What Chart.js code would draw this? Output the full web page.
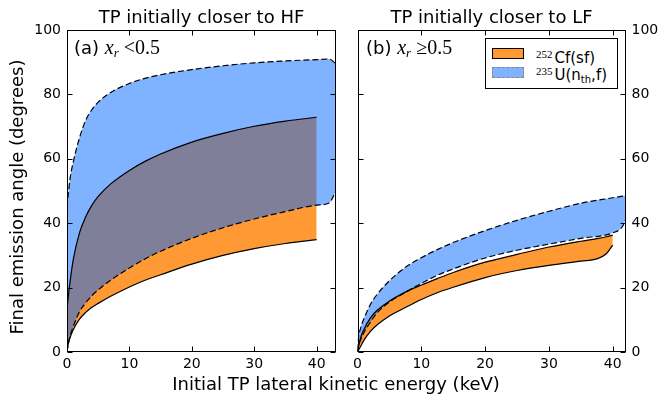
<!DOCTYPE html>
<html lang="en">
<head>
<meta charset="UTF-8">
<title>Final emission angle vs initial TP lateral kinetic energy</title>
<script src="https://cdn.jsdelivr.net/npm/chart.js"></script>
<style>
  body { margin: 0; background: #fff; font-family: "DejaVu Sans", sans-serif; }
  #wrap { position: relative; width: 664px; height: 400px; overflow: hidden; }
  canvas { position: absolute; top: 0; }
  #chartA { left: 0; }
  #chartB { left: 340px; }
  .txt { position: absolute; white-space: nowrap; color: #000; font-size: 18px; line-height: 18px; }
  .title { top: 8px; width: 269px; text-align: center; }
  .math { font-family: "Liberation Serif", serif; font-size: 20px; }
  .math i sub { font-size: 13px; font-style: italic; vertical-align: -3px; }
  #ylabel { left: -133px; top: 187px; width: 300px; height: 20px; line-height: 20px; text-align: center; transform: rotate(-90deg); }
  #xlabel { left: 136px; top: 375px; width: 400px; text-align: center; }
  #legend { position: absolute; left: 485px; top: 38px; width: 133px; height: 51px; box-sizing: border-box; border: 1px solid #000; background: #fff; }
  .patch { position: absolute; left: 492px; width: 32px; height: 11px; box-sizing: border-box; }
  .leg { position: absolute; left: 536px; font-size: 15px; line-height: 15px; white-space: nowrap; }
  .leg .iso { font-family: "Liberation Serif", serif; font-size: 11px; vertical-align: 5px; margin-right: 2px; }
  .leg sub { font-size: 10px; vertical-align: -3px; }
</style>
</head>
<body>
<div id="wrap">
  <canvas id="chartA" width="340" height="400"></canvas>
  <canvas id="chartB" width="324" height="400"></canvas>

  <div class="txt title" style="left:67px;">TP initially closer to HF</div>
  <div class="txt title" style="left:357px;">TP initially closer to LF</div>
  <div class="txt" style="left:74px; top:38px;">(a) <span class="math"><i>x<sub>r</sub></i> &lt;0.5</span></div>
  <div class="txt" style="left:366px; top:38px;">(b) <span class="math"><i>x<sub>r</sub></i> ≥0.5</span></div>
  <div class="txt" id="ylabel">Final emission angle (degrees)</div>
  <div class="txt" id="xlabel">Initial TP lateral kinetic energy (keV)</div>

  <div id="legend"></div>
  <div class="patch" style="top:48px; background:#ff9933; border:1px solid #000;"></div>
  <div class="patch" style="top:67px; background:rgba(0,102,255,0.5); border:1px dashed #888;"></div>
  <div class="leg" style="top:47px;"><span class="iso">252</span>Cf(sf)</div>
  <div class="leg" style="top:64px;"><span class="iso">235</span>U(n<sub>th</sub>,f)</div>
</div>

<script>
  // axis ticks
  const xTicks = [0, 10, 20, 30, 40];
  const yTicks = [0, 20, 40, 60, 80, 100];

  // (a) x_r < 0.5 -- 235U(nth,f) band (dashed)
  const uEnergyA = [0, 0.2, 0.5, 1, 2, 3, 4, 5, 7, 10, 12.5, 15, 20, 25, 30, 35, 40, 42, 43.1];
  const uLowerA  = [0, 2.5, 5, 7.9, 12.5, 15.3, 17.5, 19.3, 22.3, 26.1, 28.9, 31.3, 35.3, 38.6, 41.3, 43.6, 45.6, 46.3, 50];
  const uUpperA  = [45, 49, 54, 59, 66.5, 72, 75.3, 77.6, 80.6, 83.4, 85, 86.1, 87.7, 88.9, 89.8, 90.4, 90.8, 91, 89.5];
  // (a) 252Cf(sf) band (solid)
  const cfEnergyA = [0, 0.2, 0.5, 1, 2, 3, 4, 5, 7, 10, 12.5, 15, 20, 25, 30, 35, 40];
  const cfLowerA  = [0, 2.5, 4.5, 6.9, 10.2, 12.3, 13.9, 15.1, 17.3, 20.2, 22.3, 24, 27.3, 30, 32.1, 33.7, 34.9];
  const cfUpperA  = [13, 17, 22, 28.7, 37, 42, 45.6, 48.3, 52.2, 56.4, 59.2, 61.5, 65.2, 67.9, 70.1, 71.7, 72.9];

  // (b) x_r >= 0.5 -- 235U(nth,f) band
  const uEnergyB = [0, 0.1, 0.5, 1, 2, 3, 5, 7.5, 10, 12.5, 15, 20, 25, 30, 35, 40, 41.5, 42];
  const uLowerB  = [0, 1.5, 3.8, 6, 9.2, 12, 15.5, 18.5, 21.3, 23.8, 25.8, 29.2, 31.6, 33.5, 35.3, 37, 38.9, 41];
  const uUpperB  = [0.5, 3.5, 7.5, 10.3, 14.7, 17.7, 22.1, 26.3, 29.3, 31.8, 34, 37.7, 40.9, 43.7, 46.2, 47.9, 48.4, 48.6];
  // (b) 252Cf(sf) band
  const cfEnergyB = [0, 0.5, 1, 2, 3, 5, 7.5, 10, 12.5, 15, 20, 25, 30, 35, 37.5, 39, 40];
  const cfLowerB  = [0, 1.8, 3.6, 6.3, 8.3, 11.2, 13.8, 16.3, 18.4, 20.1, 23.1, 25.3, 26.9, 28.2, 28.9, 30.5, 33.2];
  const cfUpperB  = [0, 4.5, 7, 10.5, 12.8, 15.8, 18.6, 20.8, 22.8, 24.7, 27.9, 30.3, 32.6, 34.4, 35.2, 35.8, 36.3];

  Chart.defaults.font.family = '"DejaVu Sans", sans-serif';
  Chart.defaults.font.size = 14;
  Chart.defaults.color = '#000';

  function pts(xs, ys) {
    return xs.map((x, i) => ({ x: x, y: ys[i] }));
  }

  // matplotlib style box with inward ticks on all four sides
  const framePlugin = {
    id: 'frame',
    afterDatasetsDraw(chart) {
      const ctx = chart.ctx;
      const a = chart.chartArea;
      const xs = chart.scales.x, ys = chart.scales.y;
      const l = Math.round(a.left) + 0.5, r = Math.round(a.right) - 0.5;
      const t = Math.round(a.top) + 0.5, b = Math.round(a.bottom) - 0.5;
      ctx.save();
      ctx.strokeStyle = '#000';
      ctx.lineWidth = 1;
      ctx.beginPath();
      xs.ticks.forEach(tk => {
        const px = Math.round(xs.getPixelForValue(tk.value)) + 0.5;
        ctx.moveTo(px, b); ctx.lineTo(px, b - 5);
        ctx.moveTo(px, t); ctx.lineTo(px, t + 5);
      });
      ys.ticks.forEach(tk => {
        const py = Math.round(ys.getPixelForValue(tk.value)) + 0.5;
        ctx.moveTo(l, py); ctx.lineTo(l + 5, py);
        ctx.moveTo(r, py); ctx.lineTo(r - 5, py);
      });
      ctx.stroke();
      ctx.strokeRect(l, t, r - l, b - t);
      ctx.restore();
    }
  };

  function edge(data, dashed, fill, color) {
    return {
      data: data,
      borderColor: '#000',
      borderWidth: 1.2,
      borderDash: dashed ? [6, 3] : [],
      pointRadius: 0,
      cubicInterpolationMode: 'monotone',
      fill: fill,
      backgroundColor: color
    };
  }

  function makePanel(id, side, xMax, uX, uLo, uHi, cfX, cfLo, cfHi) {
    const left = side === 'left';
    new Chart(document.getElementById(id), {
      type: 'line',
      data: {
        datasets: [
          edge(pts(uX, uLo), true, false, 'transparent'),
          edge(pts(uX, uHi), true, '-1', 'rgba(0, 102, 255, 0.5)'),
          edge(pts(cfX, cfLo), false, false, 'transparent'),
          edge(pts(cfX, cfHi), false, '-1', '#ff9933')
        ]
      },
      options: {
        responsive: false,
        animation: false,
        devicePixelRatio: 1,
        layout: { padding: left ? { top: 30, right: 4, left: 0, bottom: 0 } : { top: 30, right: 0, left: 17.5, bottom: 0 } },
        scales: {
          x: {
            type: 'linear',
            min: 0,
            max: xMax,
            afterBuildTicks: s => { s.ticks = xTicks.map(v => ({ value: v })); },
            afterFit: s => { s.height = 48; },
            grid: { display: false, drawTicks: false },
            border: { display: false },
            ticks: { padding: 4, maxRotation: 0, autoSkip: false }
          },
          y: {
            type: 'linear',
            position: side,
            min: 0,
            max: 100,
            afterBuildTicks: s => { s.ticks = yTicks.map(v => ({ value: v })); },
            afterFit: s => { s.width = left ? 67 : 38.5; },
            grid: { display: false, drawTicks: false },
            border: { display: false },
            ticks: { padding: 6 }
          }
        },
        plugins: {
          legend: { display: false },
          tooltip: { enabled: false },
          filler: { drawTime: 'beforeDatasetsDraw' }
        }
      },
      plugins: [framePlugin]
    });
  }

  makePanel('chartA', 'left', 43.1, uEnergyA, uLowerA, uUpperA, cfEnergyA, cfLowerA, cfUpperA);
  makePanel('chartB', 'right', 42, uEnergyB, uLowerB, uUpperB, cfEnergyB, cfLowerB, cfUpperB);
</script>
</body>
</html>
